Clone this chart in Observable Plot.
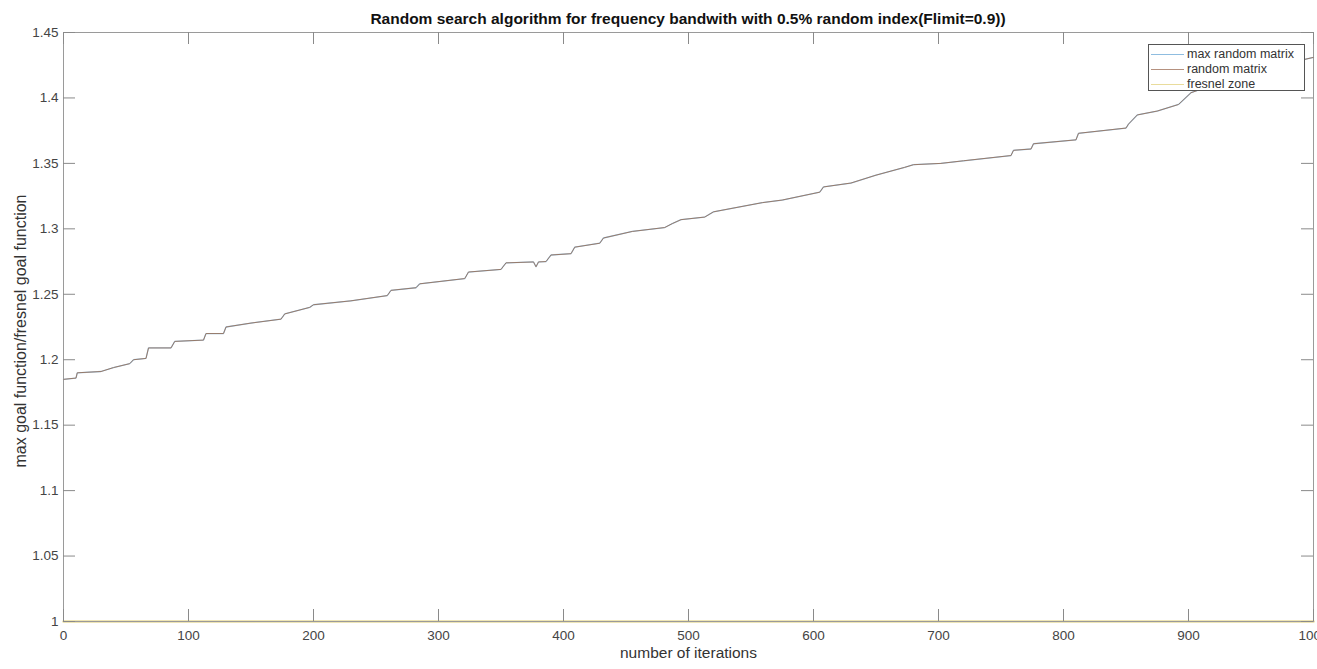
<!DOCTYPE html>
<html>
<head>
<meta charset="utf-8">
<script src="https://cdn.jsdelivr.net/npm/d3@7"></script>
<script src="https://cdn.jsdelivr.net/npm/@observablehq/plot@0.6"></script>
<style>
  html, body { margin: 0; padding: 0; background: white; }
  #wrap { position: relative; width: 1317px; height: 669px; overflow: hidden; font-family: "Liberation Sans", Arial, sans-serif; }
  #title { height: 24px; box-sizing: border-box; padding-top: 11px; padding-left: 59px; line-height: 16px; text-align: center; font-weight: bold; font-size: 15.5px; color: #111; }
  #legend { position: absolute; left: 1148px; top: 44px; width: 157px; height: 47px; box-sizing: border-box; border: 1px solid #555; background: white; font-size: 12.5px; color: #333; }
  #legend .row { position: absolute; left: 2px; height: 14px; line-height: 14px; white-space: nowrap; }
  #legend .sw { display: inline-block; width: 33px; height: 0; border-top: 1px solid; vertical-align: middle; margin-right: 3px; }
</style>
</head>
<body>
<div id="wrap">
  <div id="title"></div>
  <div id="chart"></div>
  <div id="legend"></div>
</div>
<script>
// ---- data ----
const titleText = "Random search algorithm for frequency bandwith with 0.5% random index(Flimit=0.9))";
const xLabel = "number of iterations";
const yLabel = "max goal function/fresnel goal function";
const seriesNames = ["max random matrix", "random matrix", "fresnel zone"];
const seriesColors = ["#8fbde0", "#b5917f", "#e9dc9c"];

const iterations = [0, 10, 11, 30, 40, 53, 56, 66, 68, 86, 89, 112, 114, 128, 130, 150, 174, 177, 197, 200, 230, 259, 262, 282, 285, 321, 324, 350, 354, 376, 378, 380, 386, 390, 406, 409, 429, 432, 455, 481, 487, 494, 513, 520, 559, 575, 605, 608, 630, 650, 673, 680, 702, 720, 758, 760, 774, 776, 810, 812, 850, 852, 859, 875, 892, 902, 920, 950, 980, 991, 1000];
const randomMatrix = [1.185, 1.186, 1.190, 1.191, 1.194, 1.197, 1.200, 1.201, 1.209, 1.209, 1.214, 1.215, 1.220, 1.220, 1.225, 1.228, 1.231, 1.235, 1.240, 1.242, 1.245, 1.249, 1.253, 1.255, 1.258, 1.262, 1.267, 1.269, 1.274, 1.2747, 1.271, 1.2747, 1.275, 1.280, 1.281, 1.286, 1.289, 1.293, 1.298, 1.301, 1.304, 1.307, 1.309, 1.313, 1.320, 1.322, 1.328, 1.332, 1.335, 1.341, 1.347, 1.349, 1.350, 1.352, 1.356, 1.360, 1.361, 1.365, 1.368, 1.373, 1.377, 1.380, 1.387, 1.390, 1.395, 1.404, 1.410, 1.418, 1.426, 1.429, 1.431];
const maxRandomMatrix = randomMatrix.slice();
const fresnelIterations = [0, 1000];
const fresnelZone = [1, 1];

const xTicks = [0, 100, 200, 300, 400, 500, 600, 700, 800, 900, 1000];
const yTicks = [1, 1.05, 1.1, 1.15, 1.2, 1.25, 1.3, 1.35, 1.4, 1.45];
const yTickLabels = ["1", "1.05", "1.1", "1.15", "1.2", "1.25", "1.3", "1.35", "1.4", "1.45"];

// ---- build ----
document.getElementById("title").textContent = titleText;

const W = 1317, H = 645, mT = 8, mB = 48, mL = 63, mR = 4;
const xDom = [0, 1000], yDom = [1, 1.45];
const tickPx = 12;
const dxTick = tickPx * (xDom[1] - xDom[0]) / (W - mL - mR);
const dyTick = tickPx * (yDom[1] - yDom[0]) / (H - mT - mB);

const mk = (xs, ys) => xs.map((x, i) => ({x, y: ys[i]}));
const maxData = mk(iterations, maxRandomMatrix);
const randData = mk(iterations, randomMatrix);
const fresData = mk(fresnelIterations, fresnelZone);

const chart = Plot.plot({
  width: W, height: H,
  marginTop: mT, marginBottom: mB, marginLeft: mL, marginRight: mR,
  x: {domain: xDom},
  y: {domain: yDom},
  style: {fontFamily: "'Liberation Sans', Arial, sans-serif", fontSize: "13.5px", color: "#444", background: "white", overflow: "visible"},
  marks: [
    Plot.line(fresData, {x: "x", y: "y", stroke: seriesColors[2], strokeWidth: 2.5}),
    Plot.frame({stroke: "#9a9a9a", strokeWidth: 1}),
    Plot.ruleX(xTicks, {x: d => d, y1: yDom[0], y2: yDom[0] + dyTick, stroke: "#8a8a8a"}),
    Plot.ruleX(xTicks, {x: d => d, y1: yDom[1] - dyTick, y2: yDom[1], stroke: "#8a8a8a"}),
    Plot.ruleY(yTicks, {y: d => d, x1: xDom[0], x2: xDom[0] + dxTick, stroke: "#8a8a8a"}),
    Plot.ruleY(yTicks, {y: d => d, x1: xDom[1] - dxTick, x2: xDom[1], stroke: "#8a8a8a"}),
    Plot.axisX(xTicks, {tickSize: 0, tickPadding: 9, label: null, tickFormat: d => String(d), fill: "#444"}),
    Plot.axisY(yTicks, {tickSize: 0, tickPadding: 5, label: null, tickFormat: (d, i) => yTickLabels[i], fill: "#444"}),
    Plot.line(maxData, {x: "x", y: "y", stroke: seriesColors[0], strokeWidth: 1.3, strokeOpacity: 0.8}),
    Plot.line(randData, {x: "x", y: "y", stroke: "#977a6a", strokeWidth: 1}),
    Plot.text([xLabel], {text: d => d, frameAnchor: "bottom", dy: 36, fontSize: 15.5, fill: "#333"}),
    Plot.text([yLabel], {text: d => d, frameAnchor: "left", textAnchor: "middle", dx: -43, dy: 4, rotate: -90, fontSize: 16, fill: "#333"})
  ]
});
document.getElementById("chart").appendChild(chart);

// legend
const leg = document.getElementById("legend");
seriesNames.forEach((name, i) => {
  const row = document.createElement("div");
  row.className = "row";
  row.style.top = (2 + i * 15) + "px";
  const sw = document.createElement("span");
  sw.className = "sw";
  sw.style.borderTopColor = seriesColors[i];
  row.appendChild(sw);
  row.appendChild(document.createTextNode(name));
  leg.appendChild(row);
});
</script>
</body>
</html>
